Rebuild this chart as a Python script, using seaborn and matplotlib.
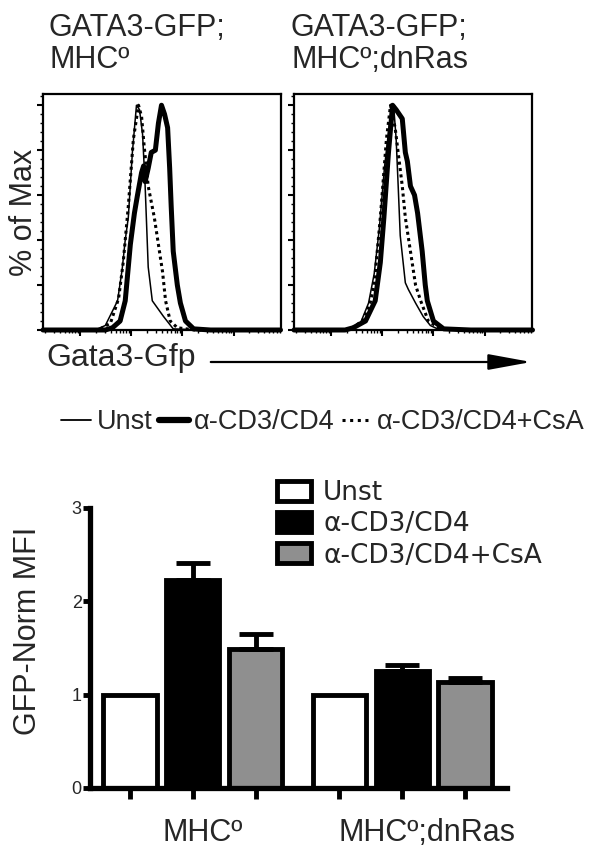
import numpy as np
import pandas as pd
import matplotlib
matplotlib.use("Agg")
import matplotlib.pyplot as plt
from matplotlib.lines import Line2D
from matplotlib.patches import Patch
from matplotlib.ticker import LogLocator, MultipleLocator, NullFormatter
import seaborn as sns

# histograms: Gata3-Gfp (log10 units) vs % of max
left_unst_x = [0.27, 1.29, 1.49, 1.73, 1.82, 1.88, 1.94, 2.02, 2.10, 2.16, 2.22, 2.27, 2.33, 2.41, 2.63, 2.82, 3.35, 4.92]
left_unst_y = [0, 0, 2, 13, 27, 40, 50, 79, 100, 98, 87, 64, 28, 13, 6, 0.5, 0, 0]
left_cd3_x = [0.27, 1.49, 1.63, 1.78, 1.88, 1.98, 2.06, 2.12, 2.20, 2.24, 2.27, 2.33, 2.39, 2.47, 2.53, 2.59,
              2.65, 2.71, 2.75, 2.78, 2.82, 2.90, 2.96, 3.06, 3.22, 3.55, 4.92]
left_cd3_y = [0, 0, 1, 4, 13, 38, 52, 60, 70, 73, 66, 72, 79, 80, 92, 100,
              96, 90, 72, 55, 35, 20, 12, 4, 0.5, 0, 0]
left_csa_x = [0.27, 1.35, 1.59, 1.75, 1.84, 1.94, 2.04, 2.14, 2.20, 2.25, 2.33, 2.45, 2.53, 2.61, 2.67, 2.76, 2.90, 3.25, 4.92]
left_csa_y = [0, 0, 3, 14, 30, 55, 85, 100, 95, 82, 64, 50, 38, 26, 13, 4, 1, 0, 0]

right_unst_x = [0.27, 1.37, 1.57, 1.73, 1.84, 1.94, 2.04, 2.14, 2.22, 2.27, 2.31, 2.35, 2.45, 2.51, 2.65, 2.80, 2.94, 3.08, 3.53, 4.94]
right_unst_y = [0, 0, 3, 12, 25, 45, 72, 92, 100, 85, 64, 42, 21, 18, 12, 6, 2, 0.5, 0, 0]
right_cd3_x = [0.27, 1.27, 1.43, 1.67, 1.86, 1.96, 2.03, 2.12, 2.20, 2.27, 2.39, 2.45, 2.49, 2.55, 2.63, 2.69,
               2.78, 2.84, 2.88, 3.00, 3.20, 3.73, 4.94]
right_cd3_y = [0, 0, 1, 4, 13, 30, 50, 79, 100, 98, 94, 79, 75, 64, 60, 52,
               35, 20, 13, 4, 0.5, 0, 0]
right_csa_x = [0.27, 1.27, 1.41, 1.61, 1.76, 1.84, 1.96, 2.08, 2.16, 2.25, 2.39, 2.45, 2.55, 2.65, 2.75, 2.90, 3.14, 3.63, 4.94]
right_csa_y = [0, 0, 1, 4, 12, 20, 50, 85, 100, 90, 64, 50, 35, 20, 13, 4, 0.5, 0, 0]

# bar chart: GFP-normalised MFI
genotypes = ["MHCº", "MHCº;dnRas"]
conditions = ["Unst", "α-CD3/CD4", "α-CD3/CD4+CsA"]
mfi_mhc = [1.0, 2.23, 1.49]
mfi_dnras = [1.0, 1.25, 1.14]
err_mhc = [0.0, 0.18, 0.16]
err_dnras = [0.0, 0.07, 0.04]
bar_colors = ["white", "black", "#8f8f8f"]

sns.set_style("ticks")
plt.rcParams["font.family"] = ["Liberation Sans", "DejaVu Sans"]

W, H = 602, 857
fig = plt.figure(figsize=(W / 100, H / 100), dpi=100)


def fx(px):
    return px / W


def fy(py):
    return 1 - py / H


# ---- histograms ----
hist_sets = [
    (43, 49, "GATA3-GFP;\nMHCº", left_unst_x, left_unst_y, left_cd3_x, left_cd3_y, left_csa_x, left_csa_y),
    (294, 291, "GATA3-GFP;\nMHCº;dnRas", right_unst_x, right_unst_y, right_cd3_x, right_cd3_y, right_csa_x, right_csa_y),
]
for i, (left, title_x, title, ux, uy, cx, cy, sx, sy) in enumerate(hist_sets):
    ax = fig.add_axes([fx(left), fy(330), fx(238), 236 / H])
    sns.lineplot(x=10 ** np.array(ux), y=uy, ax=ax, color="black", lw=1.1, estimator=None, sort=False)
    sns.lineplot(x=10 ** np.array(sx), y=sy, ax=ax, color="black", lw=2.2, estimator=None, sort=False,
                 linestyle=(0, (1, 1.1)))
    sns.lineplot(x=10 ** np.array(cx), y=cy, ax=ax, color="black", lw=3.6, estimator=None, sort=False)
    for ln in ax.lines:
        ln.set_clip_on(False)
    ax.set_xscale("log")
    ax.set_xlim(10 ** 0.27, 10 ** 4.93)
    ax.set_ylim(0, 105)
    ax.xaxis.set_major_locator(LogLocator(base=10, numticks=10))
    ax.xaxis.set_minor_locator(LogLocator(base=10, subs=np.arange(2, 10), numticks=10))
    ax.xaxis.set_major_formatter(NullFormatter())
    ax.xaxis.set_minor_formatter(NullFormatter())
    ax.yaxis.set_major_locator(MultipleLocator(20))
    ax.yaxis.set_minor_locator(MultipleLocator(4))
    ax.set_yticklabels([])
    ax.tick_params(which="major", length=4, width=1.5, color="black")
    ax.tick_params(which="minor", length=2, width=1, color="black")
    for s in ax.spines.values():
        s.set_linewidth(1.6)
        s.set_color("black")
    ax.set_xlabel("")
    ax.set_ylabel("")
    if i == 0:
        ax.set_ylabel("% of Max", fontsize=22)
        ax.yaxis.set_label_coords(-0.018, 0.5)
    fig.text(fx(title_x), fy(44), title, fontsize=22, va="center", ha="left", linespacing=1.05)

fig.text(fx(46), fy(358), "Gata3-Gfp", fontsize=23, va="center", ha="left")
fig.add_artist(matplotlib.patches.FancyArrowPatch(
    (fx(208), fy(362)), (fx(534), fy(362)), transform=fig.transFigure,
    arrowstyle="-|>,head_length=1.2,head_width=0.22", mutation_scale=22, lw=1.6, color="black"))

# legend for histograms
leg_handles = [Line2D([], [], color="black", lw=1.3),
               Line2D([], [], color="black", lw=4.5),
               Line2D([], [], color="black", lw=2.2, linestyle=(0, (1, 1.5)))]
fig.legend(leg_handles, conditions, ncol=3, loc="center left", bbox_to_anchor=(fx(37), fy(422)),
           frameon=False, handlelength=1.1, handletextpad=0.2, columnspacing=0.25,
           prop={"family": ["Liberation Sans"], "size": 19.5})

# ---- bar chart ----
bar_df = pd.DataFrame({
    "genotype": np.repeat(genotypes, len(conditions)),
    "condition": conditions * len(genotypes),
    "mfi": mfi_mhc + mfi_dnras,
    "err": err_mhc + err_dnras,
})

axb = fig.add_axes([fx(90), fy(788), fx(417), 280 / H])
sns.barplot(data=bar_df, x="genotype", y="mfi", hue="condition", hue_order=conditions,
            palette=dict(zip(conditions, bar_colors)), errorbar=None, width=0.9, gap=0.15,
            edgecolor="black", linewidth=3.5, ax=axb, legend=False)

centers, tops, errs = [], [], []
for k, cond in enumerate(conditions):
    cont = axb.containers[k]
    for j, p in enumerate(cont.patches):
        centers.append(p.get_x() + p.get_width() / 2)
        tops.append(p.get_height())
        errs.append(bar_df[(bar_df.condition == cond)].err.values[j])
centers = np.array(centers)
tops = np.array(tops)
errs = np.array(errs)
has_err = errs > 0
axb.errorbar(centers[has_err], tops[has_err], yerr=[np.zeros(has_err.sum()), errs[has_err]],
             fmt="none", ecolor="black", elinewidth=3.5, capsize=12.5, capthick=3.5, zorder=5)

axb.set_xlim(-0.49, 1.50)
axb.set_ylim(0, 3)
axb.set_yticks([0, 1, 2, 3])
axb.set_yticklabels(["0", "1", "2", "3"], fontsize=13)
axb.set_xticks(sorted(centers))
axb.set_xticklabels([])
axb.tick_params(axis="y", length=5, width=3.5, pad=1, color="black")
axb.tick_params(axis="x", length=8, width=3.5, color="black")
sns.despine(ax=axb)
for s in ["left", "bottom"]:
    axb.spines[s].set_linewidth(3.8)
    axb.spines[s].set_color("black")
axb.set_xlabel("")
axb.set_ylabel("GFP-Norm MFI", fontsize=22)
axb.yaxis.set_label_coords(-0.113, 0.56)

label_shift = [0.05, 0.12]
for g, name in enumerate(genotypes):
    axb.text(g + label_shift[g], -0.16, name, transform=axb.get_xaxis_transform(),
             ha="center", va="center", fontsize=22)

bar_handles = [Patch(facecolor=c, edgecolor="black", linewidth=3.5) for c in bar_colors]
fig.legend(bar_handles, conditions, loc="upper left", bbox_to_anchor=(fx(277), fy(480)),
           frameon=False, handlelength=1.3, handleheight=0.8, handletextpad=0.45,
           labelspacing=0.2, borderpad=0, borderaxespad=0,
           prop={"family": ["DejaVu Sans"], "size": 19})

fig.savefig("out.png", dpi=100)
